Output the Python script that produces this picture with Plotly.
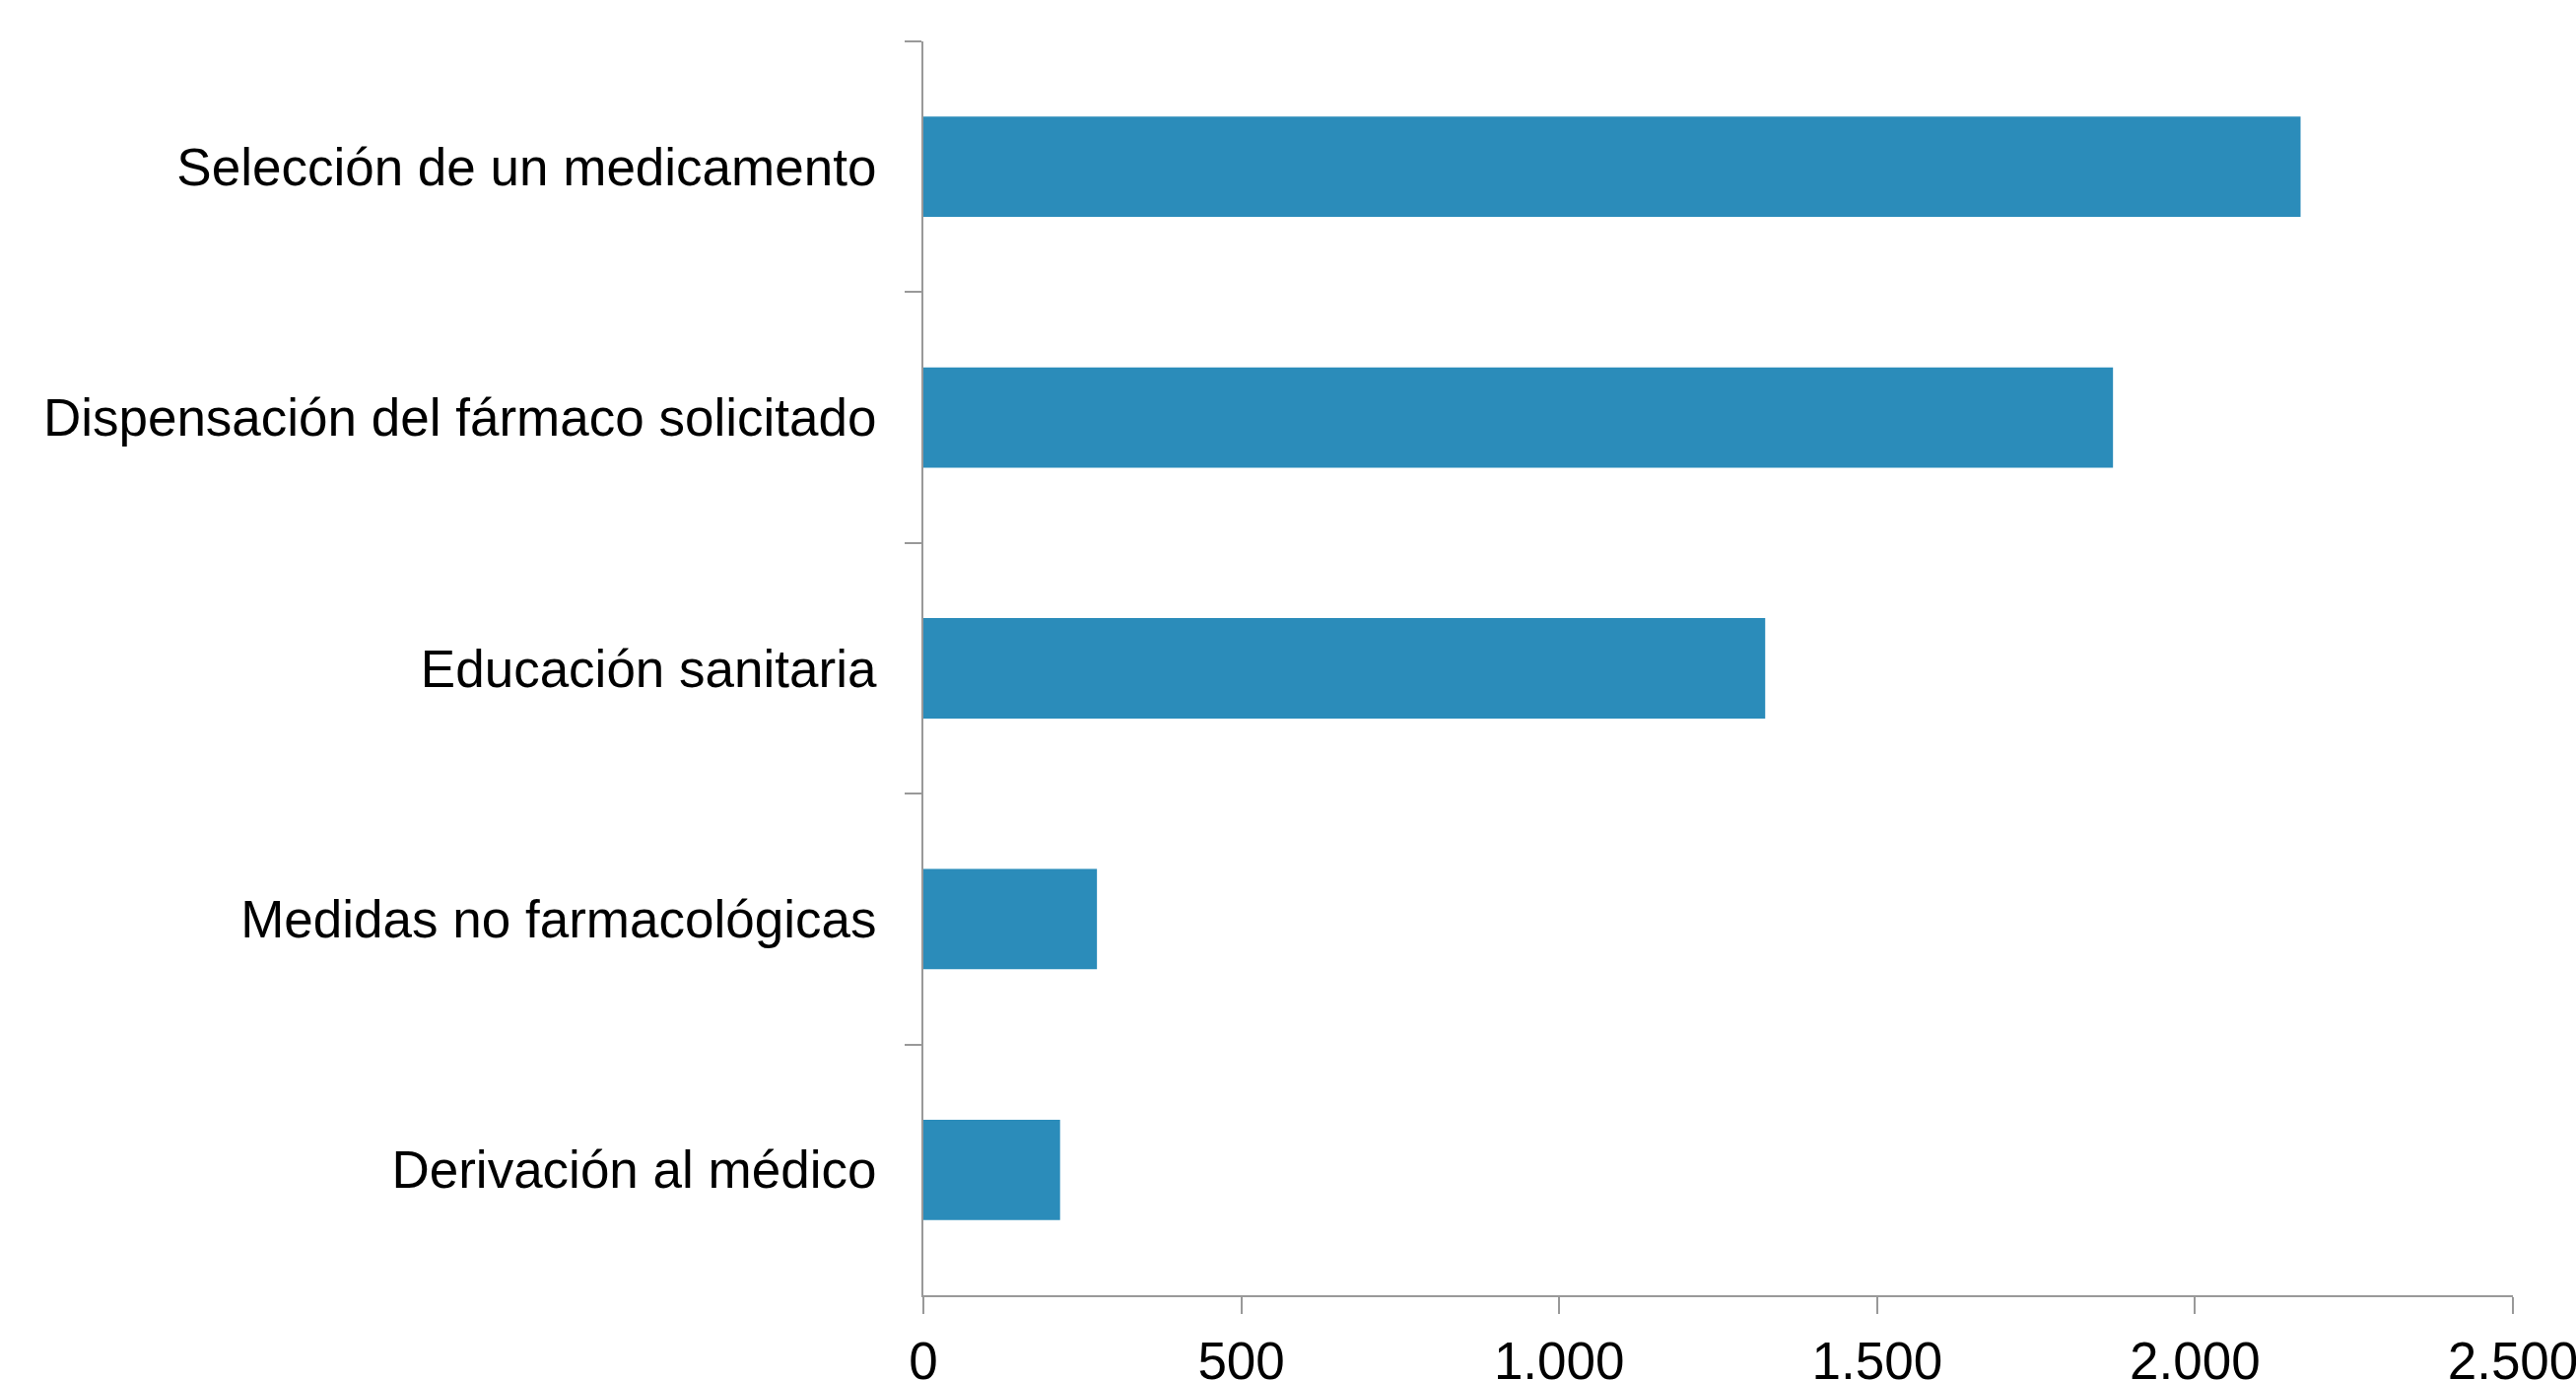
import plotly.graph_objects as go

categories = [
    "Selección de un medicamento",
    "Dispensación del fármaco solicitado",
    "Educación sanitaria",
    "Medidas no farmacológicas",
    "Derivación al médico",
]
values = [2166, 1871, 1324, 273, 215]
x_ticks = [0, 500, 1000, 1500, 2000, 2500]

FONT = "Liberation Sans, Arial, sans-serif"
AXIS_COLOR = "#999999"

fig = go.Figure(
    go.Bar(
        x=values,
        y=categories,
        orientation="h",
        marker=dict(color="#2B8CBA", line=dict(width=0)),
        width=0.4,
    )
)

fig.update_layout(
    width=2614,
    height=1400,
    margin=dict(l=937, r=64, t=42, b=86, autoexpand=False),
    plot_bgcolor="white",
    paper_bgcolor="white",
    separators=",.",
    font=dict(family=FONT, size=53, color="black"),
    showlegend=False,
)

fig.update_xaxes(
    range=[0, 2500],
    tickvals=x_ticks,
    separatethousands=True,
    automargin=False,
    ticklabeloverflow="allow",
    showgrid=False,
    zeroline=False,
    showline=True,
    linecolor=AXIS_COLOR,
    linewidth=2,
    ticks="outside",
    ticklen=17,
    tickwidth=2,
    tickcolor=AXIS_COLOR,
    ticklabelstandoff=2,
    tickfont=dict(family=FONT, size=53, color="black"),
)

fig.update_yaxes(
    categoryorder="array",
    categoryarray=categories,
    autorange="reversed",
    tickson="boundaries",
    automargin=False,
    showgrid=False,
    zeroline=False,
    showline=True,
    linecolor=AXIS_COLOR,
    linewidth=2,
    ticks="outside",
    ticklen=17,
    tickwidth=2,
    tickcolor=AXIS_COLOR,
    ticklabelstandoff=35,
    tickfont=dict(family=FONT, size=53, color="black"),
)

fig.write_html("out.html")
